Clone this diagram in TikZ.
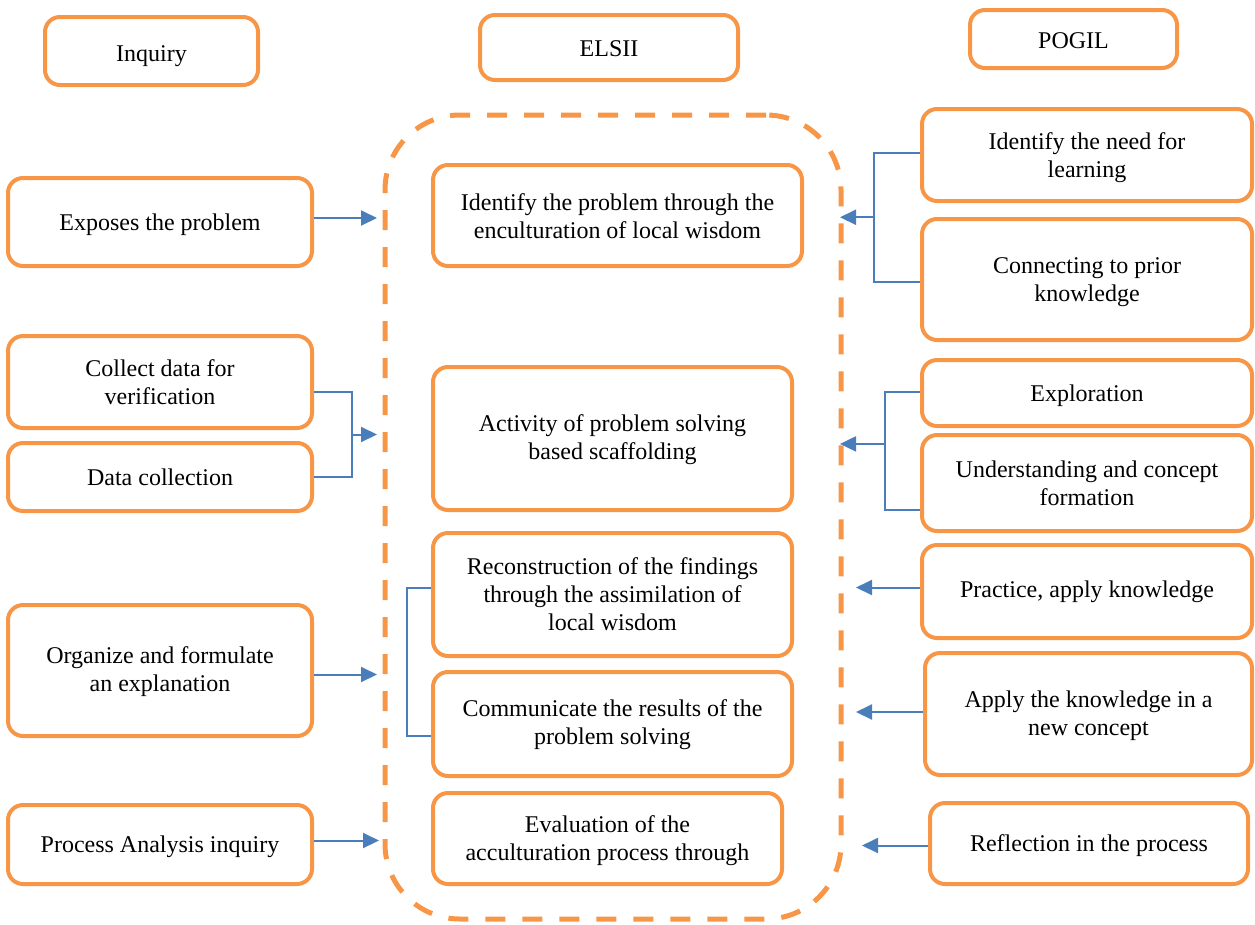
\documentclass[tikz,border=0pt]{standalone}
\usepackage{fontspec}
\setmainfont{Liberation Serif}
\usetikzlibrary{arrows.meta,calc}
\definecolor{boxorange}{HTML}{F79646}
\definecolor{lineblue}{HTML}{4A7EBB}
\tikzset{
  box/.style={draw=boxorange, line width=4pt, rounded corners=15pt, align=center,
    inner sep=0pt, font=\fontsize{24}{28}\selectfont},
  cont/.style={draw=boxorange, line width=5pt, rounded corners=75pt,
    dash pattern=on 20pt off 17pt, inner sep=0pt},
  conn/.style={draw=lineblue, line width=2pt},
  arr/.style={conn, -{Triangle[length=16pt,width=15pt]}},
}
\newcommand{\bx}[6]{% name, x1, y1, x2, y2, text
  \node[box, minimum width={#4-#2}, minimum height={#5-#3}] (#1) at ({(#2+#4)/2},{(#3+#5)/2}) {#6};}
\begin{document}
\begin{tikzpicture}[x=1pt,y=-1pt]
\useasboundingbox (0,0) rectangle (1255,924);
% container
\node[cont, minimum width=456pt, minimum height=804pt] (elsiibox) at (613,517) {};
% headers
\bx{inquiry}{45}{17}{258}{85}{\rule{0pt}{27pt}Inquiry}
\bx{elsii}{480}{15}{738}{80}{\rule{0pt}{19pt}ELSII}
\bx{pogil}{970}{10}{1177}{68}{\rule{0pt}{20pt}POGIL}
% left column
\bx{expose}{8}{178}{312}{266}{\rule{0pt}{22pt}Exposes the problem}
\bx{collect}{8}{336}{312}{428}{Collect data for\\verification}
\bx{datacol}{8}{443}{312}{511}{Data collection}
\bx{organize}{8}{605}{312}{736}{\rule{0pt}{20pt}Organize and formulate\\an explanation}
\bx{process}{8}{805}{312}{884}{\rule{0pt}{21pt}Process Analysis inquiry}
% middle column
\bx{identify}{433}{165}{802}{266}{\rule{0pt}{19pt}Identify the problem through the\\enculturation of local wisdom}
\bx{activity}{433}{367}{792}{510}{\rule{0pt}{19pt}Activity of problem solving\\based scaffolding}
\bx{recon}{433}{533}{792}{656}{Reconstruction of the findings\\through the assimilation of\\local wisdom}
\bx{commun}{433}{672}{792}{776}{\rule{0pt}{19pt}Communicate the results of the\\problem solving}
\bx{evaluat}{433}{793}{782}{884}{\rule{0pt}{21pt}Evaluation of the\\acculturation process through}
% right column
\bx{need}{922}{109}{1252}{201}{\rule{0pt}{23pt}Identify the need for\\learning}
\bx{prior}{922}{219}{1252}{340}{\rule{0pt}{22pt}Connecting to prior\\knowledge}
\bx{explore}{922}{360}{1252}{426}{\rule{0pt}{22pt}Exploration}
\bx{underst}{922}{435}{1252}{531}{Understanding and concept\\formation}
\bx{practice}{922}{545}{1252}{638}{Practice, apply knowledge}
\bx{applyk}{925}{653}{1252}{775}{\rule{0pt}{21pt}Apply the knowledge in a\\new concept}
\bx{reflect}{930}{803}{1248}{884}{\rule{0pt}{22pt}Reflection in the process}
% left arrows
\draw[arr] (expose.east) ++(0,-4) -- ++(63,0);
\coordinate (lb1) at ($(collect.east)+(0,10)$);
\coordinate (lb2) at ($(datacol.east)+(0,0)$);
\draw[conn] (lb1) -- ++(38,0) |- (lb2);
\draw[arr] ($(lb1)!.5!(lb2)+(38,0)$) -- ++(25,0);
\draw[arr] (organize.east) ++(0,4) -- ++(63,0);
\draw[arr] (process.east) ++(0,-4) -- ++(65,0);
% middle bracket
\draw[conn] ($(recon.west)+(0,-7)$) -- ++(-24,0) |- ($(commun.west)+(0,12)$);
% right arrows
\coordinate (rb1) at ($(need.west)+(0,-2)$);
\coordinate (rb2) at ($(prior.west)+(0,2)$);
\draw[conn] (rb1) -- ++(-46,0) |- (rb2);
\draw[arr] ($(rb1)!.5!(rb2)+(-46,0)$) -- ++(-34,0);
\coordinate (rb3) at ($(explore.west)+(0,-1)$);
\coordinate (rb4) at ($(underst.west)+(0,27)$);
\draw[conn] (rb3) -- ++(-35,0) |- (rb4);
\draw[arr] ($(rb3)!.44!(rb4)+(-35,0)$) -- ++(-45,0);
\draw[arr] (practice.west) ++(0,-4) -- ++(-64,0);
\draw[arr] (applyk.west) ++(0,-2) -- ++(-67,0);
\draw[arr] (reflect.west) ++(0,2) -- ++(-66,0);
\end{tikzpicture}
\end{document}
